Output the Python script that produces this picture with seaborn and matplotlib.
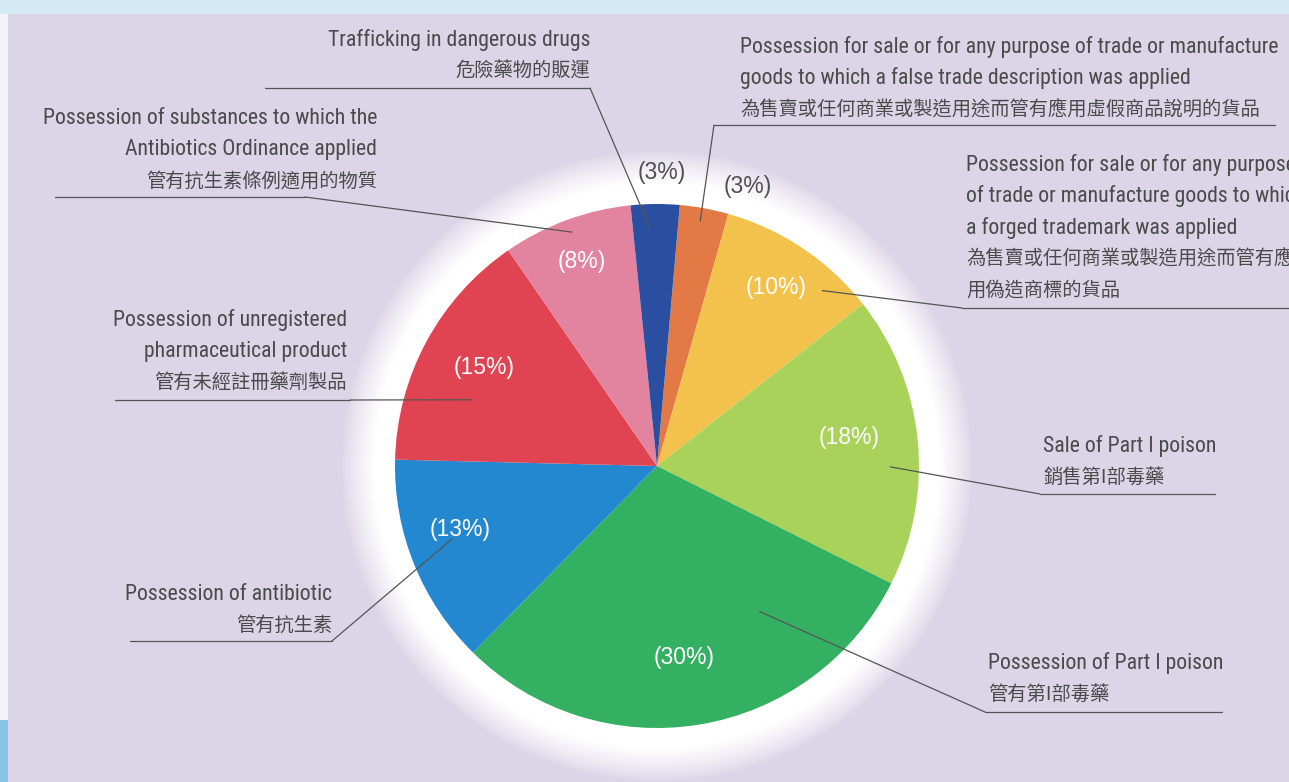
import os
import numpy as np
import matplotlib
matplotlib.use("Agg")
import matplotlib.pyplot as plt
from matplotlib import font_manager as fm
import seaborn as sns

# data, in the order the slices are drawn (clockwise from the top)
offence_en = [
    "Possession for sale or for any purpose of trade or manufacture\ngoods to which a false trade description was applied",
    "Possession for sale or for any purpose\nof trade or manufacture goods to which\na forged trademark was applied",
    "Sale of Part I poison",
    "Possession of Part I poison",
    "Possession of antibiotic",
    "Possession of unregistered\npharmaceutical product",
    "Possession of substances to which the\nAntibiotics Ordinance applied",
    "Trafficking in dangerous drugs",
]
offence_zh = [
    "為售賣或任何商業或製造用途而管有應用虛假商品說明的貨品",
    "為售賣或任何商業或製造用途而管有應\n用偽造商標的貨品",
    "銷售第I部毒藥",
    "管有第I部毒藥",
    "管有抗生素",
    "管有未經註冊藥劑製品",
    "管有抗生素條例適用的物質",
    "危險藥物的販運",
]
share_pct = [3, 10, 18, 30, 13, 15, 8, 3]
slice_colors = ["#E37A46", "#F2C24C", "#A9D25B", "#34B062",
                "#2388CF", "#E04352", "#E2849F", "#2B4FA0"]

W, H = 1289, 782
BG = "#DCD4E7"
TXT = "#4a4a4a"
ZH_FONT = ["Noto Sans CJK TC", "DejaVu Sans"]

sns.set_theme(style="white")
plt.rcParams["font.family"] = ["Liberation Sans", "Noto Sans CJK TC", "DejaVu Sans"]


def pick_narrow_font():
    # the brochure uses a condensed sans; use one if the system has it
    wanted = ["LiberationSansNarrow-Regular", "RobotoCondensed-Regular",
              "DejaVuSansCondensed.", "OpenSansCondensed", "ArialNarrow"]
    files = [f.fname for f in fm.fontManager.ttflist]
    for key in wanted:
        for f in files:
            if key.lower() in os.path.basename(f).lower():
                return fm.FontProperties(fname=f), 15.7
    for f in fm.fontManager.ttflist:
        base = os.path.basename(f.fname).lower()
        if ("condensed" in base or "narrow" in base) and "bold" not in base \
                and "italic" not in base and "oblique" not in base:
            return fm.FontProperties(fname=f.fname), 15.7
    return fm.FontProperties(family=["Liberation Sans", "DejaVu Sans"]), 13.5


en_prop, en_size = pick_narrow_font()

cx, cy, R = 657, H - 466, 262

fig = plt.figure(figsize=(W / 100, H / 100), dpi=100, facecolor=BG)
ax = fig.add_axes([0, 0, 1, 1])
ax.set_facecolor(BG)

# white glow around the pie
yy, xx = np.mgrid[0:H, 0:W]
rr = np.hypot(xx + 0.5 - cx, yy + 0.5 - cy)
glow = np.ones((H, W, 4))
glow[..., 3] = np.clip((R + 54 - rr) / 34, 0, 1) ** 0.8
ax.imshow(glow, extent=(0, W, 0, H), origin="lower", zorder=1, interpolation="bilinear")

wedges, _ = ax.pie(share_pct, colors=slice_colors, startangle=85, counterclock=False,
                   center=(cx, cy), radius=R, frame=True,
                   wedgeprops=dict(linewidth=0, zorder=2))


def polar(theta, frac):
    t = np.deg2rad(theta)
    return cx + frac * R * np.cos(t), cy + frac * R * np.sin(t)


# percentage labels: (radius fraction, angle nudge)
pct_pos = [(1.12, -7.6), (0.82, 0), (0.74, 2.8), (0.74, -1.4),
           (0.79, -4), (0.76, -1.1), (0.83, 0), (1.12, -1.4)]
for w, v, (frac, dt) in zip(wedges, share_pct, pct_pos):
    mid = (w.theta1 + w.theta2) / 2 + dt
    px, py = polar(mid, frac)
    col = "white" if frac < 1 else "#505050"
    ax.text(px, py, f"({v}%)", ha="center", va="center", fontsize=16.5,
            color=col, family=["Liberation Sans", "DejaVu Sans"], zorder=4)

# text blocks: x, ha, first line y, underline y, underline x0, x1, leader end ("l"/"r")
label_layout = [
    (740, "left", 47, 125, 714, 1275, "l"),
    (966, "left", 165, 308, 962, 1300, "l"),
    (1043, "left", 446, 494, 1040, 1215, "l"),
    (988, "left", 663, 712, 985, 1222, "l"),
    (332, "right", 594, 641, 130, 332, "r"),
    (347, "right", 320, 400, 115, 350, "r"),
    (377, "right", 118, 197, 55, 305, "r"),
    (590, "right", 40, 88, 265, 590, "r"),
]
# leader anchors inside the slices: (angle nudge from mid, radius fraction)
anchor_pos = [(0.4, 0.95), (-9.5, 0.92), (-6.0, 0.89), (25.8, 0.68),
              (-2.4, 0.83), (8.7, 0.75), (-0.2, 0.95), (1.3, 0.91)]
step = 31.3

for i, w in enumerate(wedges):
    x, ha, y0, uy, ux0, ux1, end = label_layout[i]
    row = 0
    for line in offence_en[i].split("\n"):
        ax.text(x, H - (y0 + row * step), line, ha=ha, va="center", fontsize=en_size,
                color=TXT, fontproperties=en_prop, zorder=4)
        row += 1
    for line in offence_zh[i].split("\n"):
        ax.text(x, H - (y0 + row * step), line, ha=ha, va="center", fontsize=13.9,
                color=TXT, family=ZH_FONT, zorder=4)
        row += 1
    ax.plot([ux0, ux1], [H - uy, H - uy], color="#555555", lw=0.9, zorder=3)
    dt, frac = anchor_pos[i]
    axp, ayp = polar((w.theta1 + w.theta2) / 2 + dt, frac)
    sx = ux0 if end == "l" else ux1
    ax.plot([sx, axp], [H - uy, ayp], color="#555555", lw=0.9, zorder=3)

# page edges from the scanned brochure
ax.add_patch(plt.Rectangle((0, H - 14), W, 14, color="#D3EAF5", zorder=5, lw=0))
ax.add_patch(plt.Rectangle((0, 62), 8, H - 76, color="#F4F4F8", zorder=5, lw=0))
ax.add_patch(plt.Rectangle((0, 0), 8, 62, color="#86C6E4", zorder=5, lw=0))

ax.set_xlim(0, W)
ax.set_ylim(0, H)
ax.set_axis_off()
fig.savefig("out.png", dpi=100, facecolor=BG)
